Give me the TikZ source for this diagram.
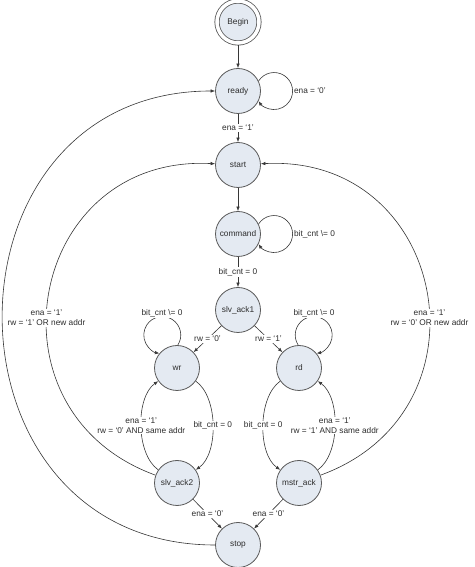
\documentclass[tikz,border=0pt]{standalone}
\usepackage{fontspec}
\setmainfont{Liberation Sans}
\usepackage{xcolor}
\usetikzlibrary{arrows.meta,positioning}
\definecolor{statefill}{RGB}{228,234,242}
\definecolor{stateline}{RGB}{90,90,90}
\definecolor{wire}{RGB}{55,55,55}
\definecolor{txt}{RGB}{45,45,45}

\begin{document}
\begin{tikzpicture}[x=1pt,y=1pt,
  state/.style={circle,draw=stateline,fill=statefill,line width=0.8pt,minimum size=45pt,inner sep=0pt,text=txt,font=\fontsize{8.3}{10}\selectfont},
  lbl/.style={fill=white,inner sep=1pt,text=txt,font=\fontsize{8.3}{10}\selectfont,align=center},
  tr/.style={draw=wire,line width=0.6pt,-{Latex[length=4.5pt,width=3.5pt]}}]
\useasboundingbox (0,0) rectangle (474,567);

%States
\node[state,double=white,double distance=3.5pt,minimum size=42pt,outer sep=2.5pt] (begin) at (238,545) {Begin};
\node[state] (ready) at (238,476) {ready};
\node[state] (start) at (238,402) {start};
\node[state] (command) at (238,333) {command};
\node[state] (slvack1) at (238,257) {slv\_ack1};
\node[state] (wr) at (177,199) {wr};
\node[state] (rd) at (299,199) {rd};
\node[state] (slvack2) at (177,84) {slv\_ack2};
\node[state] (mstrack) at (299,84) {mstr\_ack};
\node[state] (stop) at (238,22) {stop};

%Straight Lines
\draw[tr] (begin) -- (ready);
\draw[tr] (ready) -- node[lbl] {ena = `1'} (start);
\draw[tr] (start) -- (command);
\draw[tr] (command) -- node[lbl] {bit\_cnt = 0} (slvack1);
\draw[tr] (slvack1) -- node[lbl] {rw = `0'} (wr);
\draw[tr] (slvack1) -- node[lbl] {rw = `1'} (rd);
\draw[tr] (slvack2) -- node[lbl] {ena = `0'} (stop);
\draw[tr] (mstrack) -- node[lbl] {ena = `0'} (stop);

%Self loops
\draw[tr] (ready.26) arc[start angle=147,end angle=-147,radius=18.5];
\node[lbl,right=32pt of ready] (lready) {ena = `0'};
\draw[tr] (command.26) arc[start angle=147,end angle=-147,radius=18.5];
\node[lbl,right=32pt of command] (lcommand) {bit\_cnt \textbackslash= 0};
\draw[tr] (wr.88) arc[start angle=-33,end angle=261,radius=18.5];
\node[lbl] (lwr) at (162,254) {bit\_cnt \textbackslash= 0};
\draw[tr] (rd.92) arc[start angle=213,end angle=-81,radius=18.5];
\node[lbl] (lrd) at (314,254) {bit\_cnt \textbackslash= 0};

%Curve Lines
\draw[tr] (wr) to[out=-35,in=35,looseness=0.8] node[lbl] {bit\_cnt = 0} (slvack2);
\draw[tr] (slvack2) to[out=145,in=-145,looseness=0.8] node[lbl] {ena = `1'\\rw = `0' AND same addr} (wr);
\draw[tr] (rd) to[out=-145,in=145,looseness=0.8] node[lbl] {bit\_cnt = 0} (mstrack);
\draw[tr] (mstrack) to[out=35,in=-35,looseness=0.8] node[lbl] {ena = `1'\\rw = `1' AND same addr} (rd);

%Return arcs
\draw[tr] (stop) to[out=180,in=180,looseness=1.6] (ready);
\draw[tr] (slvack2) to[out=160,in=177,looseness=1.51] node[lbl,pos=0.44] {ena = `1'\\rw = `1' OR new addr} (start);
\draw[tr] (mstrack) to[out=20,in=3,looseness=1.51] node[lbl,pos=0.44] {ena = `1'\\rw = `0' OR new addr} (start);

\end{tikzpicture}
\end{document}
